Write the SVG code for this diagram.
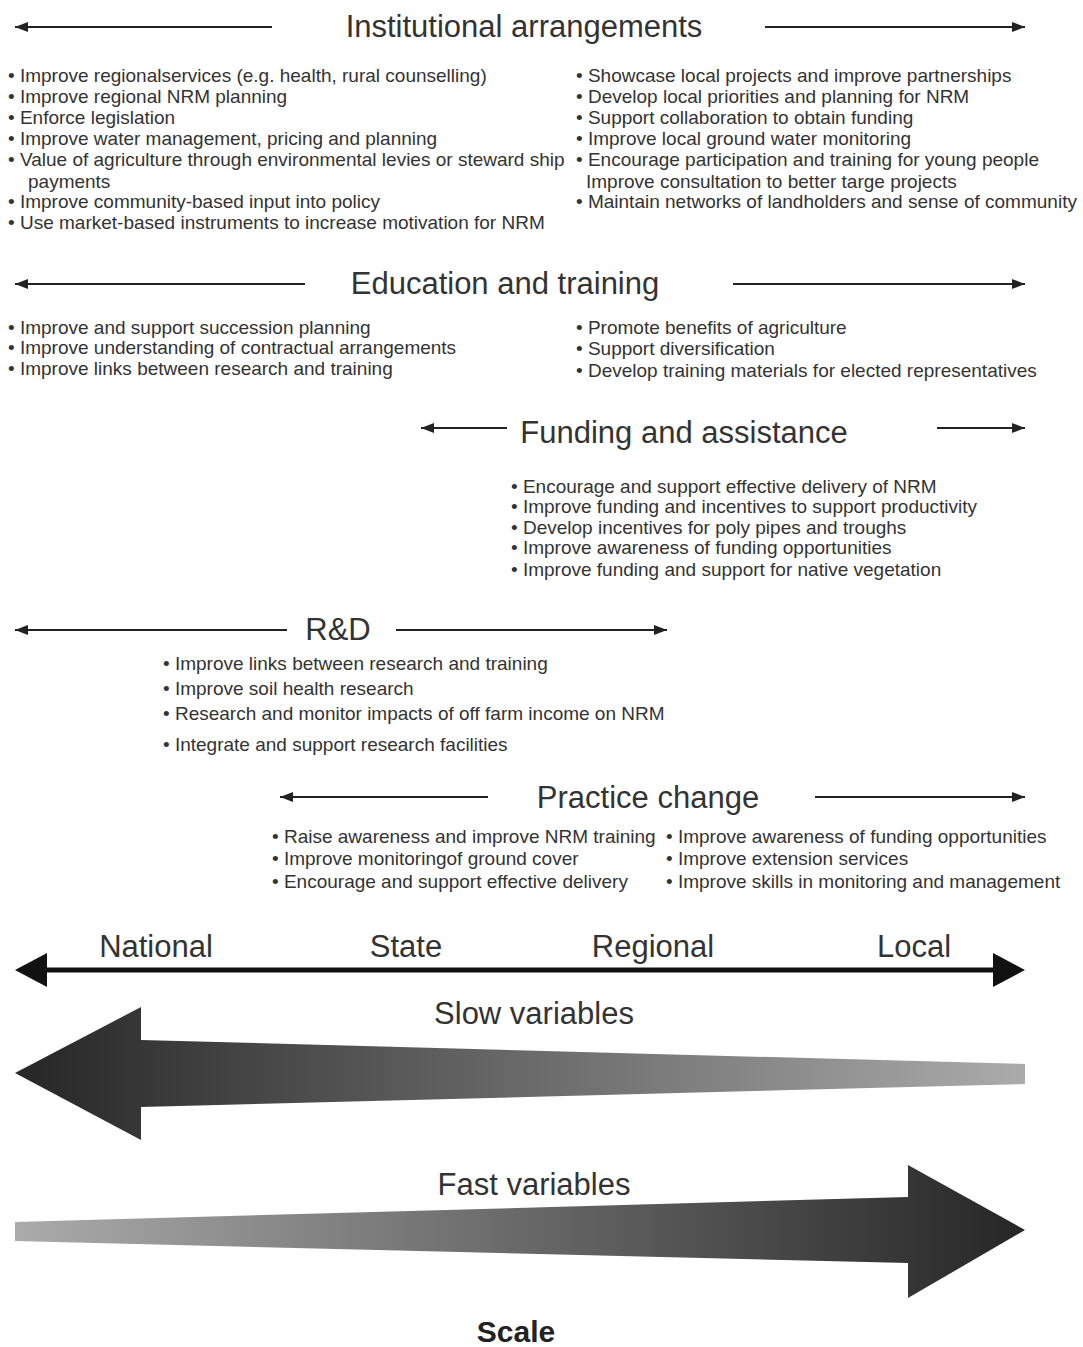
<svg xmlns="http://www.w3.org/2000/svg" width="1083" height="1347" viewBox="0 0 1083 1347">
<style>
.h{font-family:"Liberation Sans",Arial,sans-serif;font-size:31px;fill:#333;text-anchor:middle}
.b{font-family:"Liberation Sans",Arial,sans-serif;font-size:19px;fill:#333}
.s{font-family:"Liberation Sans",Arial,sans-serif;font-size:30px;fill:#222;font-weight:bold;text-anchor:middle}
.ar{stroke:#222;stroke-width:2.2;fill:none;marker-end:url(#ah)}
</style>
<defs>
<marker id="ah" markerUnits="userSpaceOnUse" markerWidth="14" markerHeight="11" refX="13" refY="5.5" orient="auto"><path d="M0,0.5 L13,5.5 L0,10.5 Z" fill="#222"/></marker>
<linearGradient id="gs" gradientUnits="userSpaceOnUse" x1="15" y1="0" x2="1025" y2="0"><stop offset="0" stop-color="#262626"/><stop offset="0.5" stop-color="#696969"/><stop offset="1" stop-color="#ababab"/></linearGradient>
<linearGradient id="gf" gradientUnits="userSpaceOnUse" x1="15" y1="0" x2="1025" y2="0"><stop offset="0" stop-color="#ababab"/><stop offset="0.5" stop-color="#696969"/><stop offset="1" stop-color="#262626"/></linearGradient>
</defs>
<rect width="1083" height="1347" fill="#fff"/>
<g id="connectors">
<line class="ar" x1="272" y1="27" x2="15" y2="27"/>
<line class="ar" x1="765" y1="27" x2="1025" y2="27"/>
<line class="ar" x1="305" y1="284" x2="15" y2="284"/>
<line class="ar" x1="733" y1="284" x2="1025" y2="284"/>
<line class="ar" x1="507" y1="428" x2="421" y2="428"/>
<line class="ar" x1="937" y1="428" x2="1025" y2="428"/>
<line class="ar" x1="287" y1="630" x2="15" y2="630"/>
<line class="ar" x1="396" y1="630" x2="667" y2="630"/>
<line class="ar" x1="488" y1="797" x2="280" y2="797"/>
<line class="ar" x1="815" y1="797" x2="1025" y2="797"/>
</g>
<g id="institutional">
<text class="h" x="524" y="37">Institutional arrangements</text>
<text class="b" x="8" y="82">• Improve regionalservices (e.g. health, rural counselling)</text>
<text class="b" x="8" y="103">• Improve regional NRM planning</text>
<text class="b" x="8" y="124">• Enforce legislation</text>
<text class="b" x="8" y="145">• Improve water management, pricing and planning</text>
<text class="b" x="8" y="166">• Value of agriculture through environmental levies or steward ship</text>
<text class="b" x="28" y="188">payments</text>
<text class="b" x="8" y="208">• Improve community-based input into policy</text>
<text class="b" x="8" y="229">• Use market-based instruments to increase motivation for NRM</text>
<text class="b" x="576" y="82">• Showcase local projects and improve partnerships</text>
<text class="b" x="576" y="103">• Develop local priorities and planning for NRM</text>
<text class="b" x="576" y="124">• Support collaboration to obtain funding</text>
<text class="b" x="576" y="145">• Improve local ground water monitoring</text>
<text class="b" x="576" y="166">• Encourage participation and training for young people</text>
<text class="b" x="586" y="188">Improve consultation to better targe projects</text>
<text class="b" x="576" y="208">• Maintain networks of landholders and sense of community</text>
</g>
<g id="education">
<text class="h" x="505" y="294">Education and training</text>
<text class="b" x="8" y="334">• Improve and support succession planning</text>
<text class="b" x="8" y="354">• Improve understanding of contractual arrangements</text>
<text class="b" x="8" y="375">• Improve links between research and training</text>
<text class="b" x="576" y="334">• Promote benefits of agriculture</text>
<text class="b" x="576" y="355">• Support diversification</text>
<text class="b" x="576" y="377">• Develop training materials for elected representatives</text>
</g>
<g id="funding">
<text class="h" x="684" y="443">Funding and assistance</text>
<text class="b" x="511" y="493">• Encourage and support effective delivery of NRM</text>
<text class="b" x="511" y="513">• Improve funding and incentives to support productivity</text>
<text class="b" x="511" y="534">• Develop incentives for poly pipes and troughs</text>
<text class="b" x="511" y="554">• Improve awareness of funding opportunities</text>
<text class="b" x="511" y="576">• Improve funding and support for native vegetation</text>
</g>
<g id="rd">
<text class="h" x="338" y="640">R&amp;D</text>
<text class="b" x="163" y="670">• Improve links between research and training</text>
<text class="b" x="163" y="695">• Improve soil health research</text>
<text class="b" x="163" y="720">• Research and monitor impacts of off farm income on NRM</text>
<text class="b" x="163" y="751">• Integrate and support research facilities</text>
</g>
<g id="practice">
<text class="h" x="648" y="808">Practice change</text>
<text class="b" x="272" y="843">• Raise awareness and improve NRM training</text>
<text class="b" x="272" y="865">• Improve monitoringof ground cover</text>
<text class="b" x="272" y="888">• Encourage and support effective delivery</text>
<text class="b" x="666" y="843">• Improve awareness of funding opportunities</text>
<text class="b" x="666" y="865">• Improve extension services</text>
<text class="b" x="666" y="888">• Improve skills in monitoring and management</text>
</g>
<g id="scale-axis">
<text class="h" x="156" y="957">National</text>
<text class="h" x="406" y="957">State</text>
<text class="h" x="653" y="957">Regional</text>
<text class="h" x="914" y="957">Local</text>
<line x1="40" y1="970" x2="1000" y2="970" stroke="#111" stroke-width="5"/>
<polygon points="15,970 47,953 47,987" fill="#111"/>
<polygon points="1025,970 993,953 993,987" fill="#111"/>
</g>
<g id="slow">
<text class="h" x="534" y="1024">Slow variables</text>
<polygon points="15,1073 141,1007 141,1040 1025,1064 1025,1084 141,1107 141,1140" fill="url(#gs)"/>
</g>
<g id="fast">
<text class="h" x="534" y="1195">Fast variables</text>
<polygon points="15,1222 908,1197 908,1165 1025,1230 908,1298 908,1263 15,1241" fill="url(#gf)"/>
</g>
<g id="scale-label">
<text class="s" x="516" y="1342">Scale</text>
</g>
</svg>
